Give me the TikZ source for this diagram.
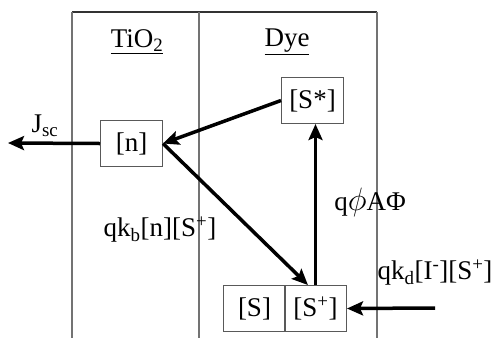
\documentclass[tikz,border=0pt]{standalone}
\usepackage{fontspec}
\setmainfont{Liberation Serif}
\usetikzlibrary{arrows.meta,calc}
\begin{document}
\begin{tikzpicture}[x=1pt,y=-1pt,
  framel/.style={draw=black!55,line width=1.2pt},
  statebox/.style={draw=black!65,line width=1pt,minimum width=62pt,minimum height=46pt,inner sep=0pt,anchor=north west,font=\fontsize{27}{31}\selectfont},
  lbl/.style={inner sep=0pt,font=\fontsize{27}{31}\selectfont},
  flow/.style={line width=3.5pt,-{Stealth[length=16pt,width=14pt,inset=3pt]}}]
\useasboundingbox (0,0) rectangle (494,338);
% frame
\draw[line width=1.2pt,draw=black!80] (72,12) -- (377,12);
\draw[framel] (72,12) -- (72,338);
\draw[framel] (199,12) -- (199,338);
\draw[framel] (377,12) -- (377,338);
% headings
\node[lbl] (tio) at (137,42) {\underline{TiO\textsubscript{2}}};
\node[lbl] (dye) at (287,42) {\underline{Dye}};
% boxes
\node[statebox] (n) at (100,120) {[n]};
\node[statebox] (Sstar) at (281,77) {[S*]};
\node[statebox] (S) at (223,285) {[S]};
\node[statebox] (Sp) at (284,285) {[S\textsuperscript{+}]};
% coordinates
\coordinate (jout) at (8,143);
\coordinate (iin) at (435,308);
% arrows
\draw[flow] (n.west) -- (jout);
\draw[flow] (Sstar.west) -- (n.east);
\draw[flow] (n.east) -- ($(Sp.north west)!0.38!(Sp.north east)$);
\draw[flow] (Sp.north) -- (Sp.north |- Sstar.south);
\draw[flow] (iin) -- (Sp.east);
% labels
\node[lbl] (jsc) at (45,126) {J\textsubscript{sc}};
\node[lbl] (kb) at (160,230) {qk\textsubscript{b}[n][S\textsuperscript{+}]};
\node[lbl] (phi) at (370,202) {q\scalebox{1.3}{$\phi$}AΦ};
\node[lbl] (kd) at (435,273) {qk\textsubscript{d}[I\textsuperscript{-}][S\textsuperscript{+}]};
\end{tikzpicture}
\end{document}
